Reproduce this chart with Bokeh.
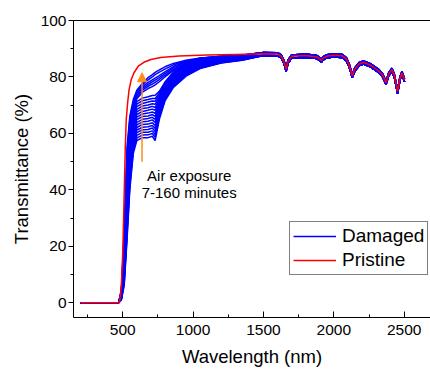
from bokeh.plotting import figure
from bokeh.models import (Range1d, SingleIntervalTicker, FixedTicker, LinearAxis, Legend, LegendItem,
                          Arrow, NormalHead)
from bokeh.core.properties import value
from bokeh.embed import file_html
from bokeh.resources import INLINE

FONT = "Liberation Sans"

# ---------------- data ----------------
# damaged spectra: short-wavelength part (shared wavelength grid), one list per air-exposure time
wl_head = [200, 470, 490, 510, 530, 550, 575, 600, 640, 680, 710, 730, 760, 800, 860, 950, 1050, 1200, 1350]

damaged_low = [
    [0, 0, 1.0, 6.0, 22.0, 40.0, 53.0, 57.5, 58.5, 58.5, 59.0, 57.5, 65.0, 71.5, 76.3, 80.3, 83.0, 84.9, 85.9],
    [0, 0, 1.1, 6.7, 23.3, 41.2, 54.0, 58.4, 59.4, 59.5, 60.0, 58.6, 65.7, 71.9, 76.7, 80.6, 83.2, 85.0, 86.0],
    [0, 0, 1.3, 7.5, 24.6, 42.4, 54.9, 59.3, 60.4, 60.4, 60.9, 59.6, 66.3, 72.4, 77.0, 80.9, 83.4, 85.2, 86.1],
    [0, 0, 1.4, 8.2, 25.9, 43.6, 55.9, 60.3, 61.3, 61.4, 61.9, 60.7, 67.0, 72.8, 77.4, 81.2, 83.6, 85.3, 86.2],
    [0, 0, 1.6, 8.9, 27.2, 44.8, 56.8, 61.2, 62.2, 62.4, 62.8, 61.8, 67.6, 73.3, 77.8, 81.5, 83.9, 85.5, 86.3],
    [0, 0, 1.7, 9.7, 28.5, 46.0, 57.8, 62.1, 63.2, 63.3, 63.8, 62.8, 68.3, 73.7, 78.1, 81.8, 84.1, 85.6, 86.4],
    [0, 0, 1.9, 10.4, 29.8, 47.2, 58.8, 63.0, 64.1, 64.3, 64.8, 63.9, 69.0, 74.2, 78.5, 82.1, 84.3, 85.7, 86.5],
    [0, 0, 2.0, 11.1, 31.1, 48.4, 59.7, 63.9, 65.0, 65.3, 65.7, 65.0, 69.6, 74.6, 78.9, 82.4, 84.5, 85.9, 86.6],
    [0, 0, 2.2, 11.9, 32.4, 49.6, 60.7, 64.9, 66.0, 66.2, 66.7, 66.0, 70.3, 75.1, 79.2, 82.6, 84.7, 86.0, 86.8],
    [0, 0, 2.3, 12.6, 33.7, 50.8, 61.6, 65.8, 66.9, 67.2, 67.6, 67.1, 70.9, 75.5, 79.6, 82.9, 84.9, 86.2, 86.9],
    [0, 0, 2.5, 13.3, 35.0, 52.0, 62.6, 66.7, 67.8, 68.2, 68.6, 68.2, 71.6, 76.0, 80.0, 83.2, 85.1, 86.3, 87.0],
    [0, 0, 2.6, 14.1, 36.3, 53.2, 63.6, 67.6, 68.8, 69.1, 69.6, 69.2, 72.3, 76.4, 80.3, 83.5, 85.3, 86.4, 87.1],
    [0, 0, 2.8, 14.8, 37.6, 54.4, 64.5, 68.5, 69.7, 70.1, 70.5, 70.3, 72.9, 76.9, 80.7, 83.8, 85.6, 86.6, 87.2],
    [0, 0, 2.9, 15.5, 38.9, 55.6, 65.5, 69.5, 70.6, 71.1, 71.5, 71.4, 73.6, 77.3, 81.1, 84.1, 85.8, 86.7, 87.3],
    [0, 0, 3.1, 16.3, 40.2, 56.8, 66.4, 70.4, 71.6, 72.0, 72.4, 72.4, 74.2, 77.8, 81.4, 84.4, 86.0, 86.9, 87.4],
    [0, 0, 3.2, 17.0, 41.5, 58.0, 67.4, 71.3, 72.5, 73.0, 73.4, 73.5, 74.9, 78.2, 81.8, 84.7, 86.2, 87.0, 87.5],
]
damaged_high = [
    [0, 0, 3.4, 18.0, 43.0, 59.5, 68.5, 72.3, 74.6, 75.9, 76.6, 77.2, 78.3, 80.0, 82.3, 84.6, 86.3, 87.1, 87.6],
    [0, 0, 3.6, 19.5, 45.5, 61.0, 69.2, 73.0, 75.3, 76.7, 77.5, 78.1, 79.1, 80.6, 82.7, 84.9, 86.4, 87.2, 87.6],
    [0, 0, 3.8, 21.0, 48.0, 62.5, 69.9, 73.6, 75.9, 77.4, 78.3, 78.9, 79.8, 81.2, 83.2, 85.2, 86.5, 87.2, 87.7],
    [0, 0, 4.0, 22.0, 50.0, 63.5, 70.6, 74.2, 76.5, 78.1, 79.0, 79.6, 80.5, 81.8, 83.7, 85.5, 86.6, 87.3, 87.7],
    [0, 0, 4.2, 23.5, 52.5, 64.8, 71.3, 74.8, 77.2, 79.0, 80.0, 80.8, 81.7, 82.8, 84.3, 85.6, 86.6, 87.3, 87.7],
    [0, 0, 4.4, 25.0, 55.0, 66.0, 72.0, 75.3, 77.8, 79.8, 80.8, 81.6, 82.5, 83.6, 84.8, 85.9, 86.7, 87.3, 87.8],
]

# long-wavelength part (all spectra coincide there)
wl_tail = [1500, 1600, 1625, 1645, 1661, 1675, 1700, 1800, 1880, 1895, 1910, 1925, 1950, 2000, 2060, 2090,
           2110, 2131, 2150, 2180, 2211, 2260, 2318, 2345, 2371, 2390, 2413, 2430, 2453, 2470, 2484, 2503]
tail_low = [87.6, 87.5, 86.8, 84.9, 82.1, 84.9, 86.7, 87.0, 86.5, 86.0, 85.2, 86.1, 86.8, 87.1, 86.9, 85.7,
            83.4, 79.8, 82.2, 84.0, 84.6, 83.6, 81.6, 80.2, 77.4, 80.4, 82.0, 79.9, 74.2, 78.9, 80.8, 78.3]
tail_high = [88.7, 88.6, 87.9, 86.0, 83.2, 86.0, 87.8, 88.1, 87.6, 87.1, 86.3, 87.2, 87.9, 88.2, 88.0, 86.8,
             84.5, 80.9, 83.3, 85.1, 85.7, 84.7, 82.7, 81.3, 78.5, 81.5, 83.1, 81.0, 75.3, 80.0, 81.9, 79.4]

# pristine spectrum
wl_pristine = [200, 470, 478, 490, 500, 510, 518, 525, 535, 545, 560, 580, 610, 650, 700, 770, 900, 1100, 1300,
               1500, 1600, 1625, 1645, 1661, 1675, 1700, 1800, 1880, 1895, 1910, 1925, 1950, 2000, 2060, 2090,
               2110, 2131, 2150, 2180, 2211, 2260, 2318, 2345, 2371, 2390, 2413, 2430, 2453, 2470, 2484, 2503]
t_pristine = [0, 0, 0.5, 6, 18, 38, 55, 65, 71, 75.5, 79, 81.5, 83.8, 85.2, 86.2, 86.9, 87.4, 87.8, 88.0,
              88.2, 88.1, 87.4, 85.5, 82.7, 85.5, 87.3, 87.6, 87.1, 86.6, 85.8, 86.7, 87.4, 87.7, 87.5, 86.3,
              84.0, 80.4, 82.8, 84.6, 85.2, 84.2, 82.2, 80.8, 78.0, 81.0, 82.6, 80.5, 74.8, 79.5, 81.4, 78.9]

x_ticks_interval = 500
y_ticks_interval = 20
legend_labels = ["Damaged", "Pristine"]
annotation_lines = ["Air exposure", "7-160 minutes"]

# ---------------- figure ----------------
p = figure(width=430, height=370, output_backend="svg", toolbar_location=None,
           x_range=Range1d(150, 2687), y_range=Range1d(-5.2, 100),
           min_border_left=73, min_border_right=0, min_border_top=20, min_border_bottom=53)
p.outline_line_color = None
p.xgrid.visible = False
p.ygrid.visible = False
p.background_fill_color = "white"
p.border_fill_color = "white"

xa = p.below[0]
xa.ticker = SingleIntervalTicker(interval=x_ticks_interval, num_minor_ticks=2)
xa.axis_label = "Wavelength (nm)"
xa.major_tick_in = 6
xa.major_tick_out = 0
xa.minor_tick_in = 3
xa.minor_tick_out = 0
xa.major_label_standoff = 7
xa.axis_label_standoff = 8

ya = p.left[0]
ya.ticker = SingleIntervalTicker(interval=y_ticks_interval, num_minor_ticks=2)
ya.axis_label = "Transmittance (%)"
ya.major_tick_in = 0
ya.major_tick_out = 5
ya.minor_tick_in = 0
ya.minor_tick_out = 3
ya.major_label_standoff = 2
ya.axis_label_standoff = 6

for ax in (xa, ya):
    ax.axis_line_color = "black"
    ax.major_tick_line_color = "black"
    ax.minor_tick_line_color = "black"
    ax.major_label_text_font = FONT
    ax.major_label_text_font_size = "15.5px"
    ax.major_label_text_color = "black"
    ax.axis_label_text_font = FONT
    ax.axis_label_text_font_size = "18.5px"
    ax.axis_label_text_font_style = "normal"
    ax.axis_label_text_color = "black"

top = LinearAxis(ticker=FixedTicker(ticks=[]), major_tick_line_color=None,
                 minor_tick_line_color=None, axis_line_color="black")
p.add_layout(top, "above")

blue_r = None
for curve in damaged_low:
    blue_r = p.line(wl_head + wl_tail, curve + tail_low, line_color="#0000FF", line_width=1.5)
for curve in damaged_high:
    p.line(wl_head + wl_tail, curve + tail_high, line_color="#0000FF", line_width=1.5)

red_r = p.line(wl_pristine, t_pristine, line_color="#FF0000", line_width=1.5)

# annotation
orange = "#FF8C1A"
p.add_layout(Arrow(end=NormalHead(size=9, fill_color=orange, line_color=orange),
                   x_start=637, y_start=50, x_end=637, y_end=81.5,
                   line_color=orange, line_width=1.5))
p.text(x=[972, 972], y=[45, 39.2], text=annotation_lines, text_font=value(FONT),
       text_font_size="15px", text_align="center", text_baseline="alphabetic", text_color="black")

legend = Legend(items=[LegendItem(label=legend_labels[0], renderers=[blue_r]),
                       LegendItem(label=legend_labels[1], renderers=[red_r])],
                location=(216, 42), border_line_color="black", border_line_width=1,
                background_fill_color="white", background_fill_alpha=1,
                label_text_font=FONT, label_text_font_size="19px", label_text_color="black",
                glyph_width=43, glyph_height=22, label_height=22, label_standoff=6,
                padding=3, spacing=2, margin=0)
p.add_layout(legend, "center")

open("out.html", "w").write(file_html(p, INLINE))
